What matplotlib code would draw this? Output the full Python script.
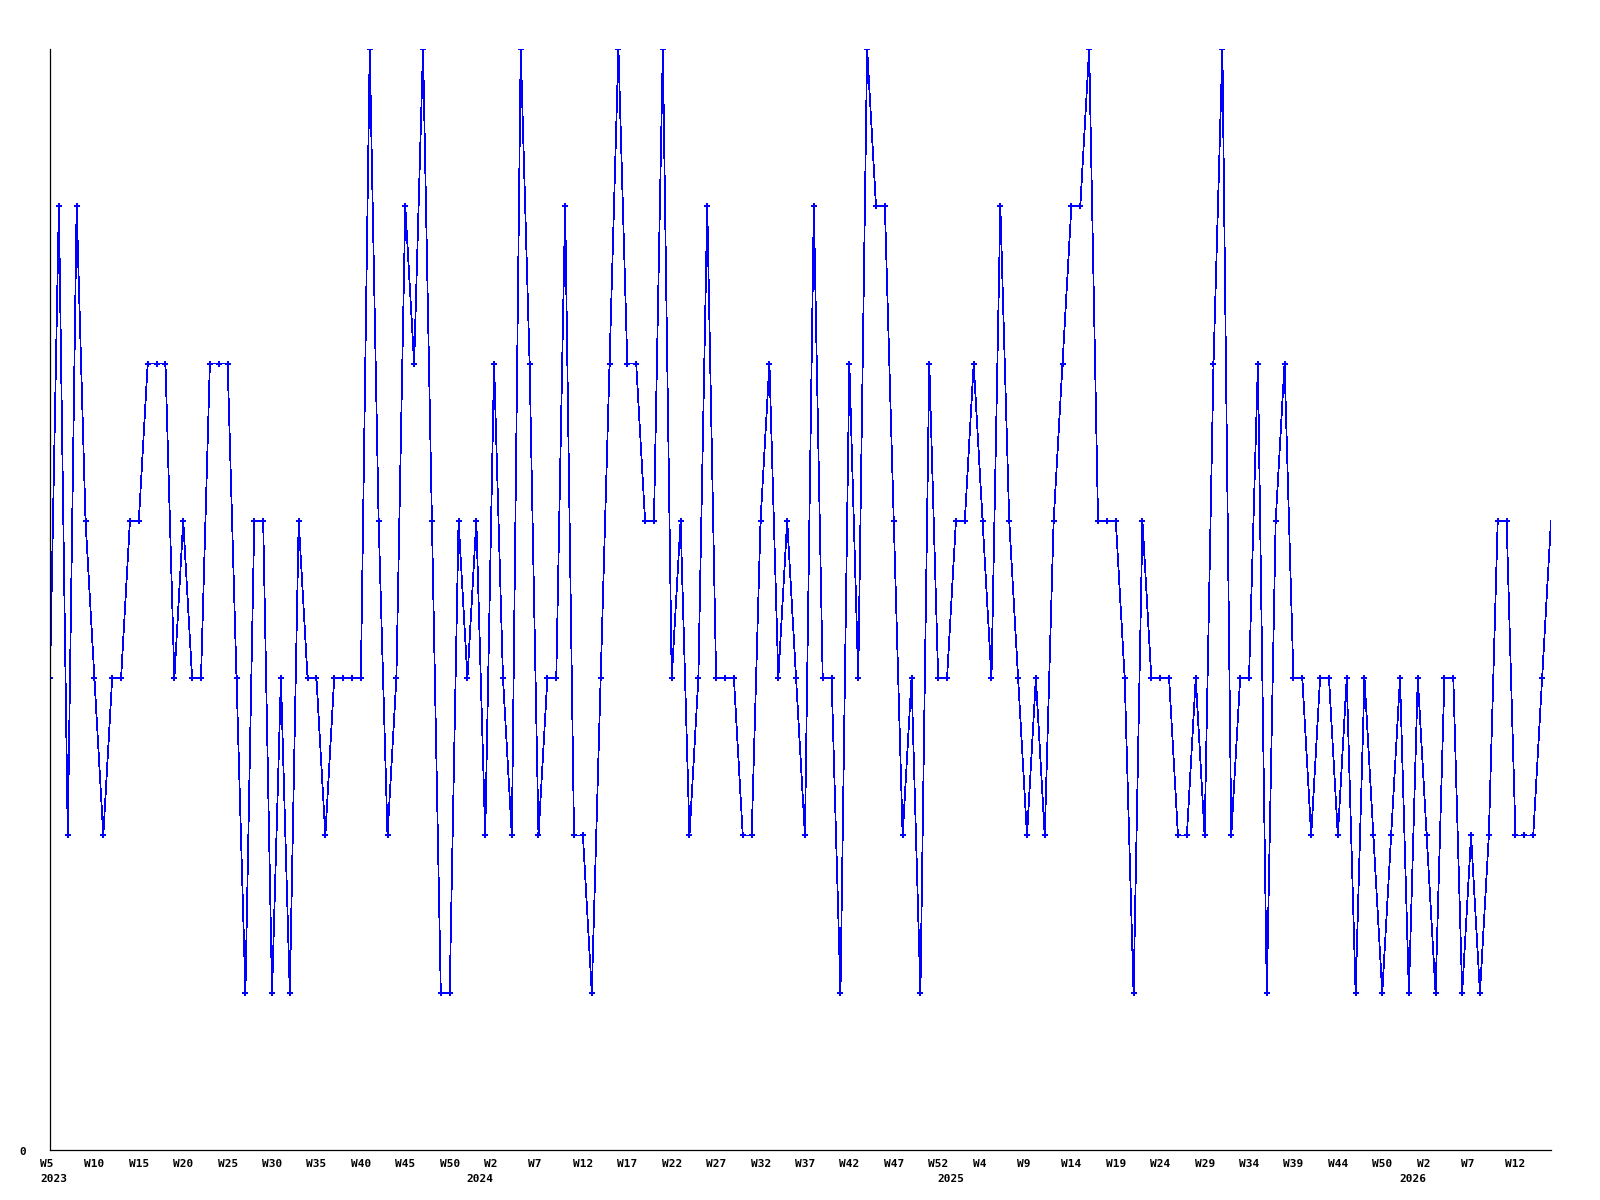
import matplotlib
matplotlib.use("Agg")
import matplotlib.pyplot as plt
from matplotlib.transforms import offset_copy

# weekly counts, starting at 2023 W5
values = [3, 6, 2, 6, 4, 3, 2, 3, 3, 4, 4, 5, 5, 5, 3, 4, 3, 3, 5, 5, 5, 3, 1, 4, 4, 1, 3, 1, 4, 3,
          3, 2, 3, 3, 3, 3, 7, 4, 2, 3, 6, 5, 7, 4, 1, 1, 4, 3, 4, 2, 5, 3, 2, 7, 5, 2, 3, 3, 6,
          2, 2, 1, 3, 5, 7, 5, 5, 4, 4, 7, 3, 4, 2, 3, 6, 3, 3, 3, 2, 2, 4, 5, 3, 4, 3, 2, 6, 3,
          3, 1, 5, 3, 7, 6, 6, 4, 2, 3, 1, 5, 3, 3, 4, 4, 5, 4, 3, 6, 4, 3, 2, 3, 2, 4, 5, 6, 6, 7,
          4, 4, 4, 3, 1, 4, 3, 3, 3, 2, 2, 3, 2, 5, 7, 2, 3, 3, 5, 1, 4, 5, 3, 3, 2, 3, 3, 2, 3,
          1, 3, 2, 1, 2, 3, 1, 3, 2, 1, 3, 3, 1, 2, 1, 2, 4, 4, 2, 2, 2, 3, 4]

# one label every 5 weeks
week_labels = ["W5", "W10", "W15", "W20", "W25", "W30", "W35", "W40", "W45", "W50",
               "W2", "W7", "W12", "W17", "W22", "W27", "W32", "W37", "W42", "W47",
               "W52", "W4", "W9", "W14", "W19", "W24", "W29", "W34", "W39", "W44",
               "W50", "W2", "W7", "W12"]

years = ["2023", "2024", "2025", "2026"]
year_start = [0, 48, 101, 153]

x = list(range(len(values)))

fig = plt.figure(figsize=(16, 12), dpi=100)
ax = fig.add_axes([50 / 1600, 1 - 1150 / 1200, 1501 / 1600, 1101 / 1200])

ax.plot(x, values, color="#0000ff", linewidth=0.55, antialiased=False,
        marker="P", markersize=4.5, markeredgewidth=0, markevery=list(range(len(values) - 1)))

ax.set_xlim(0, len(values) - 1)
ax.set_ylim(0, 7)
for s in ["top", "right"]:
    ax.spines[s].set_visible(False)
for s in ["left", "bottom"]:
    ax.spines[s].set_linewidth(0.9)
    ax.spines[s].set_color("black")
ax.set_xticks([])
ax.set_yticks([])

font = dict(family="DejaVu Sans Mono", fontweight="bold", fontsize=8)

trans = offset_copy(ax.get_xaxis_transform(), fig=fig, x=-10, y=-9, units="dots")
for i, lab in enumerate(week_labels):
    ax.text(i * 5, 0, lab, transform=trans, ha="left", va="top", **font)

trans_y = offset_copy(ax.get_xaxis_transform(), fig=fig, x=-10, y=-24, units="dots")
for yr, idx in zip(years, year_start):
    ax.text(idx, 0, yr, transform=trans_y, ha="left", va="top", **font)

trans0 = offset_copy(ax.transData, fig=fig, x=-24, y=-2, units="dots")
ax.text(0, 0, "0", transform=trans0, ha="right", va="center", **font)

fig.savefig("out.png", dpi=100)
